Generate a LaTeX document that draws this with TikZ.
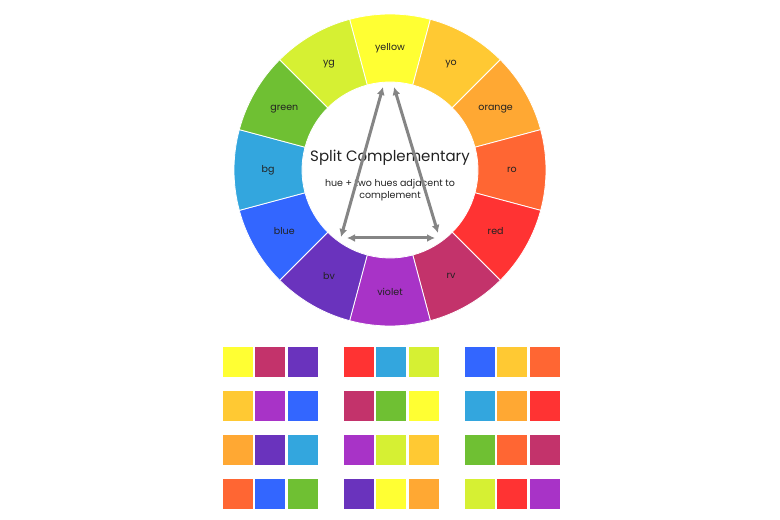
\documentclass[tikz,border=0pt]{standalone}
\usepackage{fontspec}
\setmainfont{Poppins}
\usetikzlibrary{arrows.meta}

\definecolor{cyellow}{HTML}{FFFF33}
\definecolor{cyo}{HTML}{FFC933}
\definecolor{corange}{HTML}{FFA833}
\definecolor{cro}{HTML}{FF6633}
\definecolor{cred}{HTML}{FF3333}
\definecolor{crv}{HTML}{C3336B}
\definecolor{cviolet}{HTML}{A833C7}
\definecolor{cbv}{HTML}{6A33BD}
\definecolor{cblue}{HTML}{3366FF}
\definecolor{cbg}{HTML}{33A6DE}
\definecolor{cgreen}{HTML}{6FC033}
\definecolor{cyg}{HTML}{D6F033}
\definecolor{textgray}{HTML}{222222}
\definecolor{arrowgray}{HTML}{858585}

\tikzset{
	seg/.style={draw=white, line width=0.8pt},
	swatch/.style={draw=white, line width=0.5pt},
	hue/.style={font=\fontsize{9.5}{11}\selectfont, text=textgray},
	tri/.style={draw=arrowgray, line width=3pt,
		{Latex[length=8pt,width=8pt]}-{Latex[length=8pt,width=8pt]}},
}

\begin{document}
\begin{tikzpicture}[x=1pt,y=1pt]
	\useasboundingbox (0,0) rectangle (780,520);
	%\draw[lightgray] (0,0) grid[step=20] (780,520);
	\coordinate (O) at (390,350);

	% wheel
	\begin{scope}[shift={(O)}]
	\foreach \ang/\col/\txt in {90/cyellow/yellow, 60/cyo/yo, 30/corange/orange,
		0/cro/ro, -30/cred/red, -60/crv/rv, -90/cviolet/violet, -120/cbv/bv,
		-150/cblue/blue, 180/cbg/bg, 150/cgreen/green, 120/cyg/yg}{
		\draw[seg, fill=\col] (\ang-15:88) -- (\ang-15:156)
			arc[start angle=\ang-15, end angle=\ang+15, radius=156]
			-- (\ang+15:88)
			arc[start angle=\ang+15, end angle=\ang-15, radius=88] -- cycle;
		\node[hue] (l-\txt) at (\ang:122) {\txt};
	}
	\end{scope}

	\node[text=textgray, font=\fontsize{15}{17}\selectfont] (title) at (390,362) {Split Complementary};
	\node[text=textgray, font=\fontsize{9.5}{12}\selectfont, align=center] (sub) at (390,330)
		{hue + two hues adjacent to\\complement};

	% triangle
	\coordinate (A) at (341,283);
	\coordinate (B) at (383,433);
	\coordinate (C) at (394,433);
	\coordinate (D) at (438,287);
	\coordinate (E) at (347,282);
	\coordinate (F) at (435,282);
	\draw[tri] (A) -- (B);
	\draw[tri] (D) -- (C);
	\draw[tri] (E) -- (F);

	% swatches
	\foreach \gx/\row/\ca/\cb/\cc in {
		222/0/cyellow/crv/cbv, 222/1/cyo/cviolet/cblue, 222/2/corange/cbv/cbg, 222/3/cro/cblue/cgreen,
		343/0/cred/cbg/cyg, 343/1/crv/cgreen/cyellow, 343/2/cviolet/cyg/cyo, 343/3/cbv/cyellow/corange,
		464/0/cblue/cyo/cro, 464/1/cbg/corange/cred, 464/2/cgreen/cro/crv, 464/3/cyg/cred/cviolet}{
		\pgfmathsetmacro{\gy}{174-44*\row}
		\fill[\ca, swatch] (\gx,\gy-31) rectangle ++(31,31);
		\fill[\cb, swatch] (\gx+32.5,\gy-31) rectangle ++(31,31);
		\fill[\cc, swatch] (\gx+65,\gy-31) rectangle ++(31,31);
	}
\end{tikzpicture}
\end{document}
